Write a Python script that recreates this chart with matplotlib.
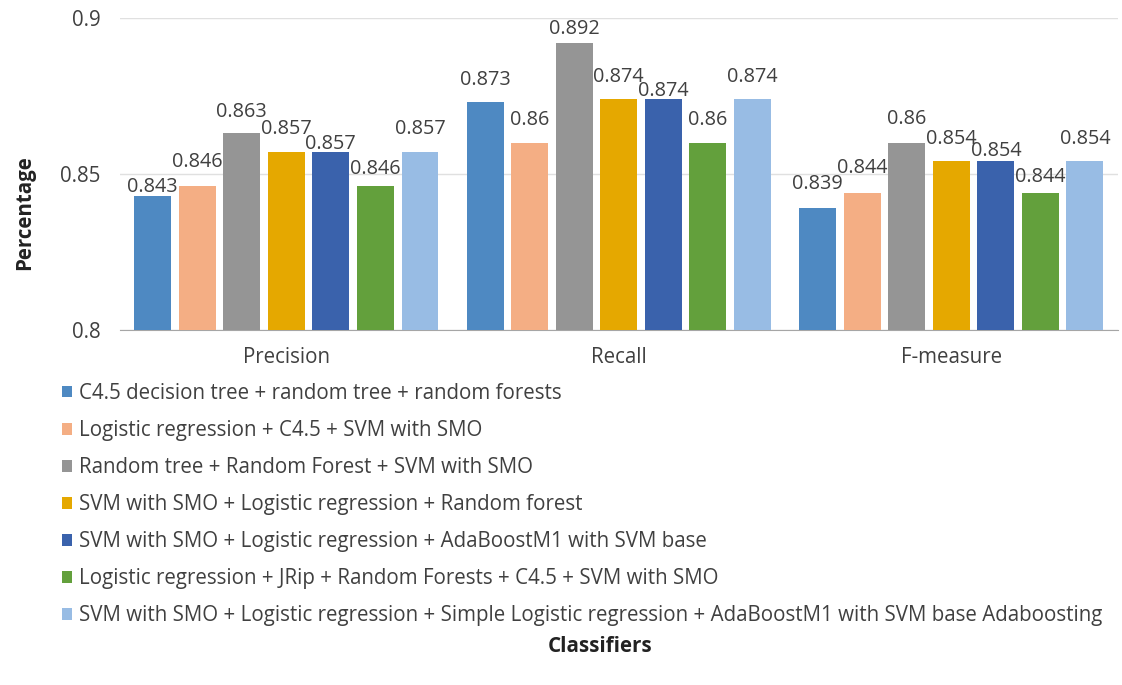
import numpy as np
import matplotlib.pyplot as plt

categories = ["Precision", "Recall", "F-measure"]
series_names = [
    "C4.5 decision tree + random tree + random forests",
    "Logistic regression + C4.5 + SVM with SMO",
    "Random tree + Random Forest + SVM with SMO",
    "SVM with SMO + Logistic regression + Random forest",
    "SVM with SMO + Logistic regression + AdaBoostM1 with SVM base",
    "Logistic regression + JRip + Random Forests + C4.5 + SVM with SMO",
    "SVM with SMO + Logistic regression + Simple Logistic regression + AdaBoostM1 with SVM base Adaboosting",
]
values = [
    [0.843, 0.873, 0.839],
    [0.846, 0.860, 0.844],
    [0.863, 0.892, 0.860],
    [0.857, 0.874, 0.854],
    [0.857, 0.874, 0.854],
    [0.846, 0.860, 0.844],
    [0.857, 0.874, 0.854],
]
colors = ["#4e89c2", "#f4ae84", "#959595", "#e5a800", "#3a62ac", "#63a03c", "#98bce4"]
# label lift above bar top, in pixels (staggered like the original)
label_lift = [
    [9, 22, 24],
    [24, 23, 25],
    [21, 14, 24],
    [23, 22, 22],
    [8, 8, 10],
    [17, 23, 16],
    [23, 22, 22],
]

plt.rcParams["font.family"] = ["Open Sans", "DejaVu Sans"]
fs = 14.8

fig = plt.figure(figsize=(11.22, 6.85), dpi=100)
ax = fig.add_axes([0.107, 0.518, 0.889, 0.456])

x = np.arange(len(categories))
step = 0.134
width = 0.111
handles = []
for i, (name, vals, c) in enumerate(zip(series_names, values, colors)):
    pos = x + (i - 3) * step
    bars = ax.bar(pos, vals, width=width, color=c, label=name, zorder=3)
    handles.append(bars)
    for p, v, lift in zip(pos, vals, label_lift[i]):
        ax.annotate(f"{v:g}", (p, v), xytext=(0, lift), textcoords="offset pixels",
                    ha="center", va="center", fontsize=14.3, color="#404040",
                    zorder=4)

ax.set_ylim(0.8, 0.9)
ax.set_xlim(-0.5, 2.5)
ax.set_yticks([0.8, 0.85, 0.9])
ax.set_yticklabels(["0.8", "0.85", "0.9"])
ax.set_xticks(x)
ax.set_xticklabels(categories)
ax.tick_params(axis="both", length=0, labelsize=fs, colors="#404040")
ax.tick_params(axis="y", pad=14)
ax.tick_params(axis="x", pad=12)
ax.grid(axis="y", color="#e0e0e0", linewidth=1, zorder=0)
for s in ["top", "right", "left"]:
    ax.spines[s].set_visible(False)
ax.spines["bottom"].set_color("#a6a6a6")

fig.text(0.022, 0.689, "Percentage", rotation=90, ha="center", va="center",
         fontsize=fs, fontweight="bold", color="#222222")
fig.text(0.535, 0.056, "Classifiers", ha="center", va="center",
         fontsize=fs, fontweight="bold", color="#222222")

fig.legend(handles=handles, loc="upper left", bbox_to_anchor=(0.048, 0.453),
           frameon=False, fontsize=fs, handlelength=0.5, handleheight=0.5,
           handletextpad=0.3, labelspacing=0.78, borderaxespad=0,
           labelcolor="#404040")

fig.savefig("out.png", dpi=100)
